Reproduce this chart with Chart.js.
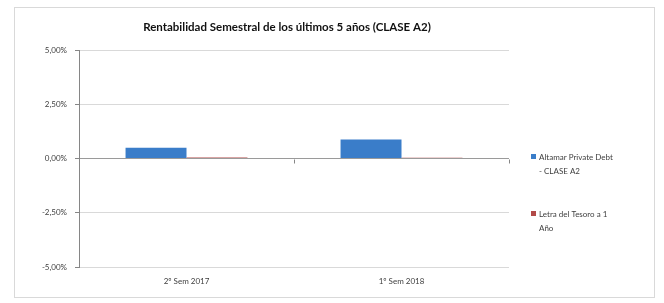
<!DOCTYPE html>
<html>
<head>
<meta charset="utf-8">
<script src="https://cdn.jsdelivr.net/npm/chart.js@4/dist/chart.umd.min.js"></script>
<style>
html,body{margin:0;padding:0;background:#fff;}
#wrap{position:relative;width:664px;height:303px;}
</style>
</head>
<body>
<div id="wrap"><canvas id="c" width="664" height="303"></canvas></div>
<script>
const title = "Rentabilidad Semestral de los últimos 5 años (CLASE A2)";
const categories = ["2º Sem 2017", "1º Sem 2018"];
const altamarValues = [0.50, 0.88];
const letraValues = [0.05, 0.04];
const seriesNames = [["Altamar Private Debt", "- CLASE A2"], ["Letra del Tesoro a 1", "Año"]];
const yTicks = [-5, -2.5, 0, 2.5, 5];
const colors = ["#3A7DC9", "#B24A48"];
const FONT = "Lato, 'Open Sans', sans-serif";

const framePlugin = {
  id: 'frame',
  beforeDraw(chart) {
    const ctx = chart.ctx;
    ctx.save();
    ctx.fillStyle = '#fff';
    ctx.fillRect(0, 0, chart.width, chart.height);
    ctx.strokeStyle = '#d9d9d9';
    ctx.lineWidth = 1;
    ctx.strokeRect(14.5, 7.5, 640, 290);
    ctx.restore();
  },
  afterDraw(chart) {
    const ctx = chart.ctx;
    ctx.save();
    // title
    ctx.fillStyle = '#111';
    ctx.font = "bold 11.5px " + FONT;
    ctx.textAlign = 'center';
    ctx.textBaseline = 'middle';
    ctx.fillText(title, 287, 27);
    // legend
    ctx.font = "8px " + FONT;
    ctx.textAlign = 'left';
    const ys = [157, 214];
    chart.data.datasets.forEach((ds, i) => {
      ctx.fillStyle = ds.backgroundColor;
      ctx.fillRect(531, ys[i] - 3, 5, 5);
      ctx.fillStyle = '#404040';
      seriesNames[i].forEach((line, j) => {
        ctx.fillText(line, 539, ys[i] + j * 14);
      });
    });
    // category tick marks on zero axis
    const xs = chart.scales.x, yS = chart.scales.y;
    const y0 = Math.round(yS.getPixelForValue(0)) + 0.5;
    ctx.strokeStyle = '#868686';
    ctx.lineWidth = 1;
    for (let i = 0; i <= categories.length; i++) {
      const x = Math.round(xs.getPixelForValue(i - 0.5)) + 0.5;
      ctx.beginPath();
      ctx.moveTo(x, y0);
      ctx.lineTo(x, y0 + 4);
      ctx.stroke();
    }
    ctx.restore();
  }
};

new Chart(document.getElementById('c'), {
  type: 'bar',
  data: {
    labels: categories,
    datasets: [
      { label: seriesNames[0].join(' '), data: altamarValues, backgroundColor: colors[0], borderWidth: 0 },
      { label: seriesNames[1].join(' '), data: letraValues, backgroundColor: colors[1], borderWidth: 0 }
    ]
  },
  options: {
    responsive: false,
    animation: false,
    devicePixelRatio: 1,
    layout: { padding: { left: 0, right: 155, top: 50, bottom: 0 } },
    plugins: { legend: { display: false }, title: { display: false }, tooltip: { enabled: false } },
    datasets: { bar: { categoryPercentage: 0.567, barPercentage: 1.0 } },
    scales: {
      x: {
        offset: true,
        grid: { display: false, drawTicks: false },
        border: { display: false },
        ticks: { padding: 10, color: '#404040', font: { family: FONT, size: 8 } },
        afterFit(s) { s.height = 36; }
      },
      y: {
        min: -5, max: 5,
        afterBuildTicks(s) { s.ticks = yTicks.map(v => ({ value: v })); },
        grid: {
          color: (c) => c.tick && c.tick.value === 0 ? '#9a9a9a' : '#d9d9d9',
          tickLength: 4,
          tickColor: '#868686'
        },
        border: { display: true, color: '#868686' },
        ticks: {
          padding: 8,
          color: '#404040',
          font: { family: FONT, size: 8 },
          callback: (v) => v.toFixed(2).replace('.', ',') + '%'
        },
        afterFit(s) { s.width = 79; }
      }
    }
  },
  plugins: [framePlugin]
});
</script>
</body>
</html>
